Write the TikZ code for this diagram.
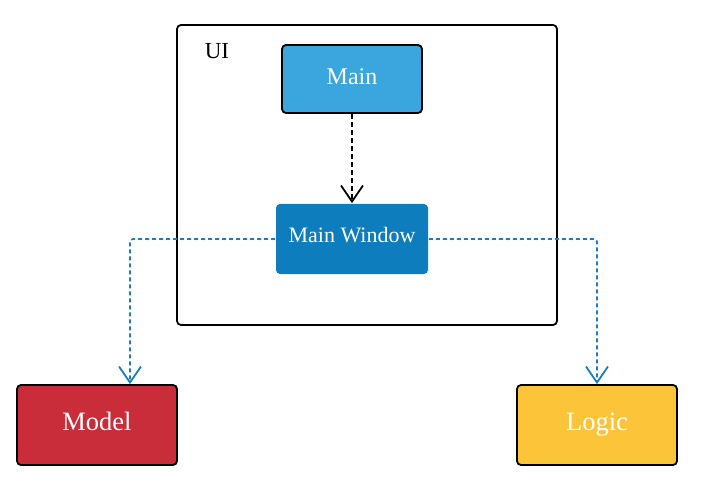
\documentclass[tikz,border=0pt]{standalone}
\usepackage{fontspec}
\setmainfont{Liberation Serif}
\usetikzlibrary{arrows.meta}
\definecolor{mainblue}{RGB}{59,166,221}
\definecolor{winblue}{RGB}{14,125,189}
\definecolor{modelred}{RGB}{201,45,58}
\definecolor{logicyellow}{RGB}{252,196,56}
\definecolor{linkblue}{RGB}{25,125,192}
\begin{document}
\begin{tikzpicture}[x=1pt, y=-1pt,
		comp/.style={draw=black, line width=1.8pt, rounded corners=4pt, minimum width=140pt, minimum height=68pt, inner sep=0pt, text=white, text height=17.5pt, text depth=6pt},
		bigcomp/.style={comp, minimum width=160pt, minimum height=80pt, font=\fontsize{26.5}{30}\selectfont, text height=19pt, text depth=8pt},
		dep/.style={dashed, dash pattern=on 5pt off 3pt, line width=1.8pt, -{Straight Barb[length=16pt, width=22pt, line width=1.8pt]}},
		link/.style={dep, draw=linkblue, dash pattern=on 4pt off 3pt, rounded corners=3pt}]
	\useasboundingbox (0,0) rectangle (713,500);

	\node[draw=black, line width=1.8pt, rounded corners=4pt, minimum width=380pt, minimum height=300pt] (ui) at (367,175) {};
	\node[font=\fontsize{23}{26}\selectfont] (uilabel) at (217,51) {UI};
	\node[comp, fill=mainblue, font=\fontsize{24}{27}\selectfont] (main) at (352,79) {Main};
	\node[comp, draw=none, fill=winblue, minimum width=152pt, minimum height=70pt, font=\fontsize{22}{25}\selectfont, text height=15.5pt, text depth=7.5pt] (mw) at (352,239) {Main Window};
	\node[bigcomp, fill=modelred] (model) at (97,425) {Model};
	\node[bigcomp, fill=logicyellow] (logic) at (597,425) {Logic};

	\draw[dep] (main) -- (mw);
	\draw[link] (mw.west) -| ([xshift=33pt]model.north);
	\draw[link] (mw.east) -| (logic.north);
\end{tikzpicture}
\end{document}
